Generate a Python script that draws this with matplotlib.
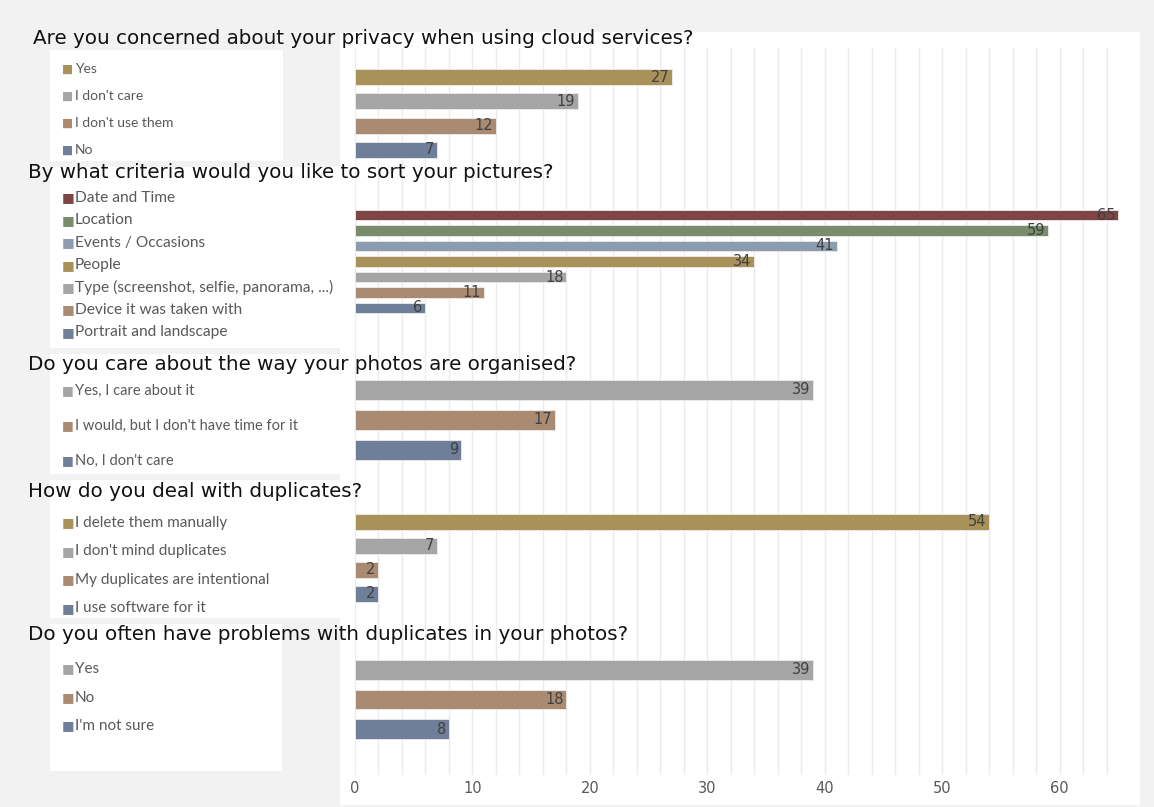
import matplotlib.pyplot as plt
from matplotlib.patches import Rectangle

W, H = 1154, 807

# colours used by the survey charts
GOLD = '#a8925a'
GREY = '#a5a5a5'
BROWN = '#ab8a72'
SLATE = '#6f7f99'
WINE = '#7f4545'
GREEN = '#798c6b'
STEEL = '#8a9cae'

q1_title = 'Are you concerned about your privacy when using cloud services?'
q1_labels = ['Yes', "I don't care", "I don't use them", 'No']
q1_values = [27, 19, 12, 7]
q1_colors = [GOLD, GREY, BROWN, SLATE]

q2_title = 'By what criteria would you like to sort your pictures?'
q2_labels = ['Date and Time', 'Location', 'Events / Occasions', 'People',
             'Type (screenshot, selfie, panorama, ...)', 'Device it was taken with',
             'Portrait and landscape']
q2_values = [65, 59, 41, 34, 18, 11, 6]
q2_colors = [WINE, GREEN, STEEL, GOLD, GREY, BROWN, SLATE]

q3_title = 'Do you care about the way your photos are organised?'
q3_labels = ['Yes, I care about it', "I would, but I don't have time for it", "No, I don't care"]
q3_values = [39, 17, 9]
q3_colors = [GREY, BROWN, SLATE]

q4_title = 'How do you deal with duplicates?'
q4_labels = ['I delete them manually', "I don't mind duplicates",
             'My duplicates are intentional', 'I use software for it']
q4_values = [54, 7, 2, 2]
q4_colors = [GOLD, GREY, BROWN, SLATE]

q5_title = 'Do you often have problems with duplicates in your photos?'
q5_labels = ['Yes', 'No', "I'm not sure"]
q5_values = [39, 18, 8]
q5_colors = [GREY, BROWN, SLATE]

xticks = [0, 10, 20, 30, 40, 50, 60]

# layout in pixels: axes top/bottom, first bar centre, bar step,
# title y, legend first y, legend step, legend font size, legend box right edge
panels = [
    (q1_title, q1_labels, q1_values, q1_colors, 48, 165, 77, 24.3, 38, 69, 27, 10.0, 283),
    (q2_title, q2_labels, q2_values, q2_colors, 165, 352, 215, 15.5, 173, 198, 22.4, 11.2, 345),
    (q3_title, q3_labels, q3_values, q3_colors, 352, 478, 390, 30, 365, 391, 35, 10.5, 345),
    (q4_title, q4_labels, q4_values, q4_colors, 478, 622, 522, 24, 492, 523, 28.5, 11.0, 340),
    (q5_title, q5_labels, q5_values, q5_colors, 622, 775, 670, 29.5, 634, 669, 28.5, 11.0, 282),
]

fig = plt.figure(figsize=(W / 100, H / 100), dpi=100, facecolor='#f2f2f2')


def fx(x):
    return x / W


def fy(y):
    return 1 - y / H


# white backgrounds
fig.add_artist(Rectangle((fx(340), fy(805)), fx(1140) - fx(340), fy(32) - fy(805),
                         transform=fig.transFigure, facecolor='white', edgecolor='none', zorder=-5))

ax_left, ax_right = 355, 1122
axes = []
for i, (title, labels, values, colors, top, bot, c0, step, ty, ly, lstep, lfs, boxr) in enumerate(panels):
    # legend box
    fig.add_artist(Rectangle((fx(50), fy(bot - 4)), fx(boxr) - fx(50), fy(top + 2) - fy(bot - 4),
                             transform=fig.transFigure, facecolor='white', edgecolor='none', zorder=-4))

    ax = fig.add_axes([fx(ax_left), fy(bot), fx(ax_right) - fx(ax_left), fy(top) - fy(bot)])
    ax.set_facecolor('none')
    pos = list(range(len(values)))
    ax.barh(pos, values, height=0.66, color=colors, edgecolor='#ececec', linewidth=0.6, zorder=3)
    for p, v in zip(pos, values):
        ax.annotate(str(v), (v, p), xytext=(-2, 0), textcoords='offset points',
                    ha='right', va='center', fontsize=10.5, color='#404040',
                    family=['Liberation Sans Narrow', 'DejaVu Sans'], zorder=4)
    ax.set_xlim(0, 65.3)
    ax.set_ylim((bot - c0) / step, (top - c0) / step)
    ax.set_xticks(range(0, 66, 2))
    ax.grid(axis='x', color='#ebebeb', linewidth=1.0, zorder=0)
    ax.set_yticks([])
    for s in ax.spines.values():
        s.set_visible(False)
    ax.tick_params(axis='x', length=0)
    if i < len(panels) - 1:
        ax.set_xticklabels([])
    else:
        ax.set_xticklabels([str(t) if t in xticks else '' for t in range(0, 66, 2)],
                           fontsize=10.5, color='#595959',
                           family=['Liberation Sans Narrow', 'DejaVu Sans'])
        ax.tick_params(axis='x', pad=4)
    axes.append(ax)

    fig.text(fx(28 if i else 33), fy(ty), title, fontsize=14.3, color='#111111',
             va='center', ha='left', family='DejaVu Sans')

    for k, (lab, col) in enumerate(zip(labels, colors)):
        yy = fy(ly + k * lstep)
        fig.text(fx(62), yy, '■', color=col, fontsize=lfs - 1.5, va='center', ha='left',
                 family='DejaVu Sans')
        fig.text(fx(75), yy, lab, color='#595959', fontsize=lfs, va='center', ha='left',
                 family=['Lato', 'DejaVu Sans'])

fig.savefig('out.png', dpi=100, facecolor=fig.get_facecolor())
